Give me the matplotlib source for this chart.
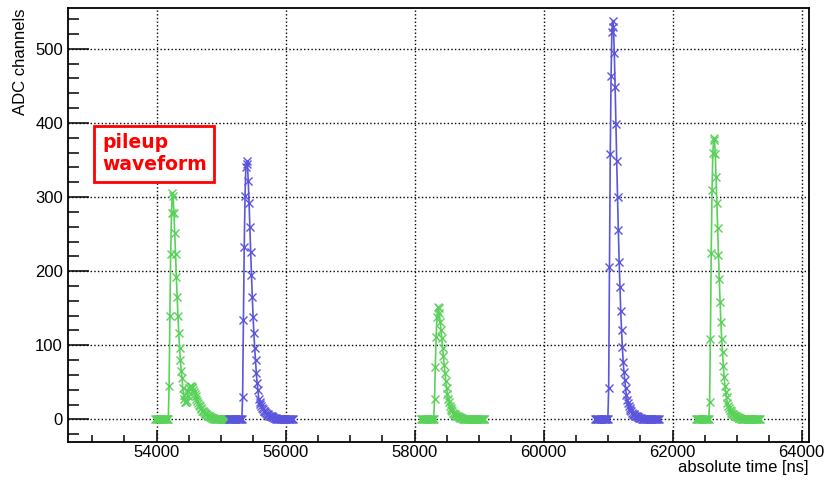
"""Digitizer traces with a pileup waveform, ROOT style"""

import matplotlib.pyplot as plt
import numpy as np
from matplotlib.ticker import MultipleLocator

plt.rcParams['font.family'] = ['Liberation Sans', 'DejaVu Sans']

# digitizer sampling period [ns]
sample_ns = 12.5

# trace 1: pileup waveform (green)
pileup_start = 53980
pileup_adc = [0, 0, 0, 0, 0, 0, 0, 0, 0, 0, 0, 0, 0, 0, 0, 0, 0,
              45, 140, 223, 279, 306, 301, 279, 251, 223, 192, 165, 140, 117, 97, 80,
              66, 56, 42, 33, 27,
              24, 23, 25, 31, 38, 43, 45, 45, 44, 42, 40, 37, 34, 31, 28, 25, 22, 20,
              18, 16, 14, 12, 11, 10, 9, 8, 7, 6, 5, 4, 4, 3, 3, 2, 2, 2, 1, 1, 1, 1,
              0, 0, 0, 0, 0, 0, 0, 0, 0, 0, 0, 0, 0, 0, 0, 0]

# trace 2 (blue)
trace2_start = 55120
trace2_adc = [0, 0, 0, 0, 0, 0, 0, 0, 0, 0, 0, 0, 0, 0, 0, 0, 0,
              30, 134, 233, 301, 341, 348, 344, 321, 292, 259, 226, 195, 165, 138, 116,
              96, 80, 62, 49, 40, 28,
              24, 21, 18, 16, 14, 12, 11, 10, 9, 8, 7, 6, 5, 5, 4, 4, 3, 3, 2, 2, 2,
              1, 1, 1, 1,
              0, 0, 0, 0, 0, 0, 0, 0, 0, 0, 0, 0, 0, 0, 0, 0, 0]

# trace 3 (green)
trace3_start = 58095
trace3_adc = [0, 0, 0, 0, 0, 0, 0, 0, 0, 0, 0, 0, 0, 0, 0, 0, 0,
              27, 71, 111, 138, 152, 151, 143, 132, 121, 110, 97, 85, 73, 62, 52, 43,
              35, 28, 23, 18,
              15, 13, 11, 9, 8, 7, 6, 5, 4, 4, 3, 3, 2, 2, 2, 1, 1, 1,
              0, 0, 0, 0, 0, 0, 0, 0, 0, 0, 0, 0, 0, 0, 0, 0, 0, 0, 0, 0, 0, 0, 0, 0,
              0]

# trace 4 (blue)
trace4_start = 60795
trace4_adc = [0, 0, 0, 0, 0, 0, 0, 0, 0, 0, 0, 0, 0, 0, 0, 0, 0,
              42, 206, 358, 463, 523, 538, 530, 494, 449, 399, 348, 300, 255, 213, 179,
              146, 120, 98, 78, 64, 53, 42, 33, 26,
              22, 18, 15, 13, 11, 9, 8, 7, 6, 5, 4, 4, 3, 3, 2, 2, 2, 1, 1, 1,
              0, 0, 0, 0, 0, 0, 0, 0, 0, 0, 0, 0, 0, 0, 0, 0, 0, 0, 0]

# trace 5 (green)
trace5_start = 62360
trace5_adc = [0, 0, 0, 0, 0, 0, 0, 0, 0, 0, 0, 0, 0, 0, 0, 0, 0,
              24, 109, 224, 309, 359, 379, 377, 358, 327, 292, 258, 222, 189, 159, 131,
              108, 91, 72, 57, 45, 37, 30, 22,
              18, 15, 13, 11, 9, 8, 7, 6, 5, 4, 4, 3, 3, 2, 2, 2, 1, 1, 1, 1,
              0, 0, 0, 0, 0, 0, 0, 0, 0, 0, 0, 0, 0, 0, 0, 0, 0, 0, 0, 0]

green = '#5ad25a'
blue = '#5a55dc'

traces = [
    (pileup_start, pileup_adc, green),
    (trace2_start, trace2_adc, blue),
    (trace3_start, trace3_adc, green),
    (trace4_start, trace4_adc, blue),
    (trace5_start, trace5_adc, green),
]

fig = plt.figure(figsize=(8.27, 4.8), dpi=100)
ax = fig.add_axes([0.0822, 0.0798, 0.8960, 0.9035])

for start, adc, color in traces:
    times = start + sample_ns * np.arange(len(adc))
    ax.plot(times, adc, color=color, linewidth=1.2, marker='x',
            markersize=6, markeredgewidth=1.0, zorder=3)

ax.set_xlim(52625, 64113)
ax.set_ylim(-30, 555)

# ROOT-like axes: inward ticks on left/bottom only, dotted grid
ax.xaxis.set_major_locator(MultipleLocator(2000))
ax.xaxis.set_minor_locator(MultipleLocator(500))
ax.yaxis.set_major_locator(MultipleLocator(100))
ax.yaxis.set_minor_locator(MultipleLocator(20))
ax.tick_params(axis='x', which='major', direction='in', length=8.6, width=1.1,
               labelsize=12, pad=2.5, top=False)
ax.tick_params(axis='x', which='minor', direction='in', length=4.7, width=1.1, top=False)
ax.tick_params(axis='y', which='major', direction='in', length=15, width=1.1,
               labelsize=12, pad=3.6, right=False)
ax.tick_params(axis='y', which='minor', direction='in', length=8, width=1.1, right=False)
for side in ax.spines.values():
    side.set_linewidth(1.3)
ax.grid(True, which='major', linestyle=':', color='black', linewidth=1.0, zorder=0)
ax.set_axisbelow(True)

ax.set_xlabel('absolute time [ns]', fontsize=12, loc='right')
ax.xaxis.set_label_coords(1.0, -0.042)
ax.set_ylabel('ADC channels', fontsize=12, loc='top')
ax.yaxis.set_label_coords(-0.0533, 1.0)

ax.text(0.0459, 0.7118, 'pileup\nwaveform', transform=ax.transAxes,
        color='red', fontsize=13.5, fontweight='bold', family='DejaVu Sans',
        ha='left', va='top', linespacing=1.2, zorder=5,
        bbox=dict(boxstyle='square,pad=0.4', facecolor='white', edgecolor='red', linewidth=2))

fig.savefig('out.png', dpi=100)
plt.close(fig)
